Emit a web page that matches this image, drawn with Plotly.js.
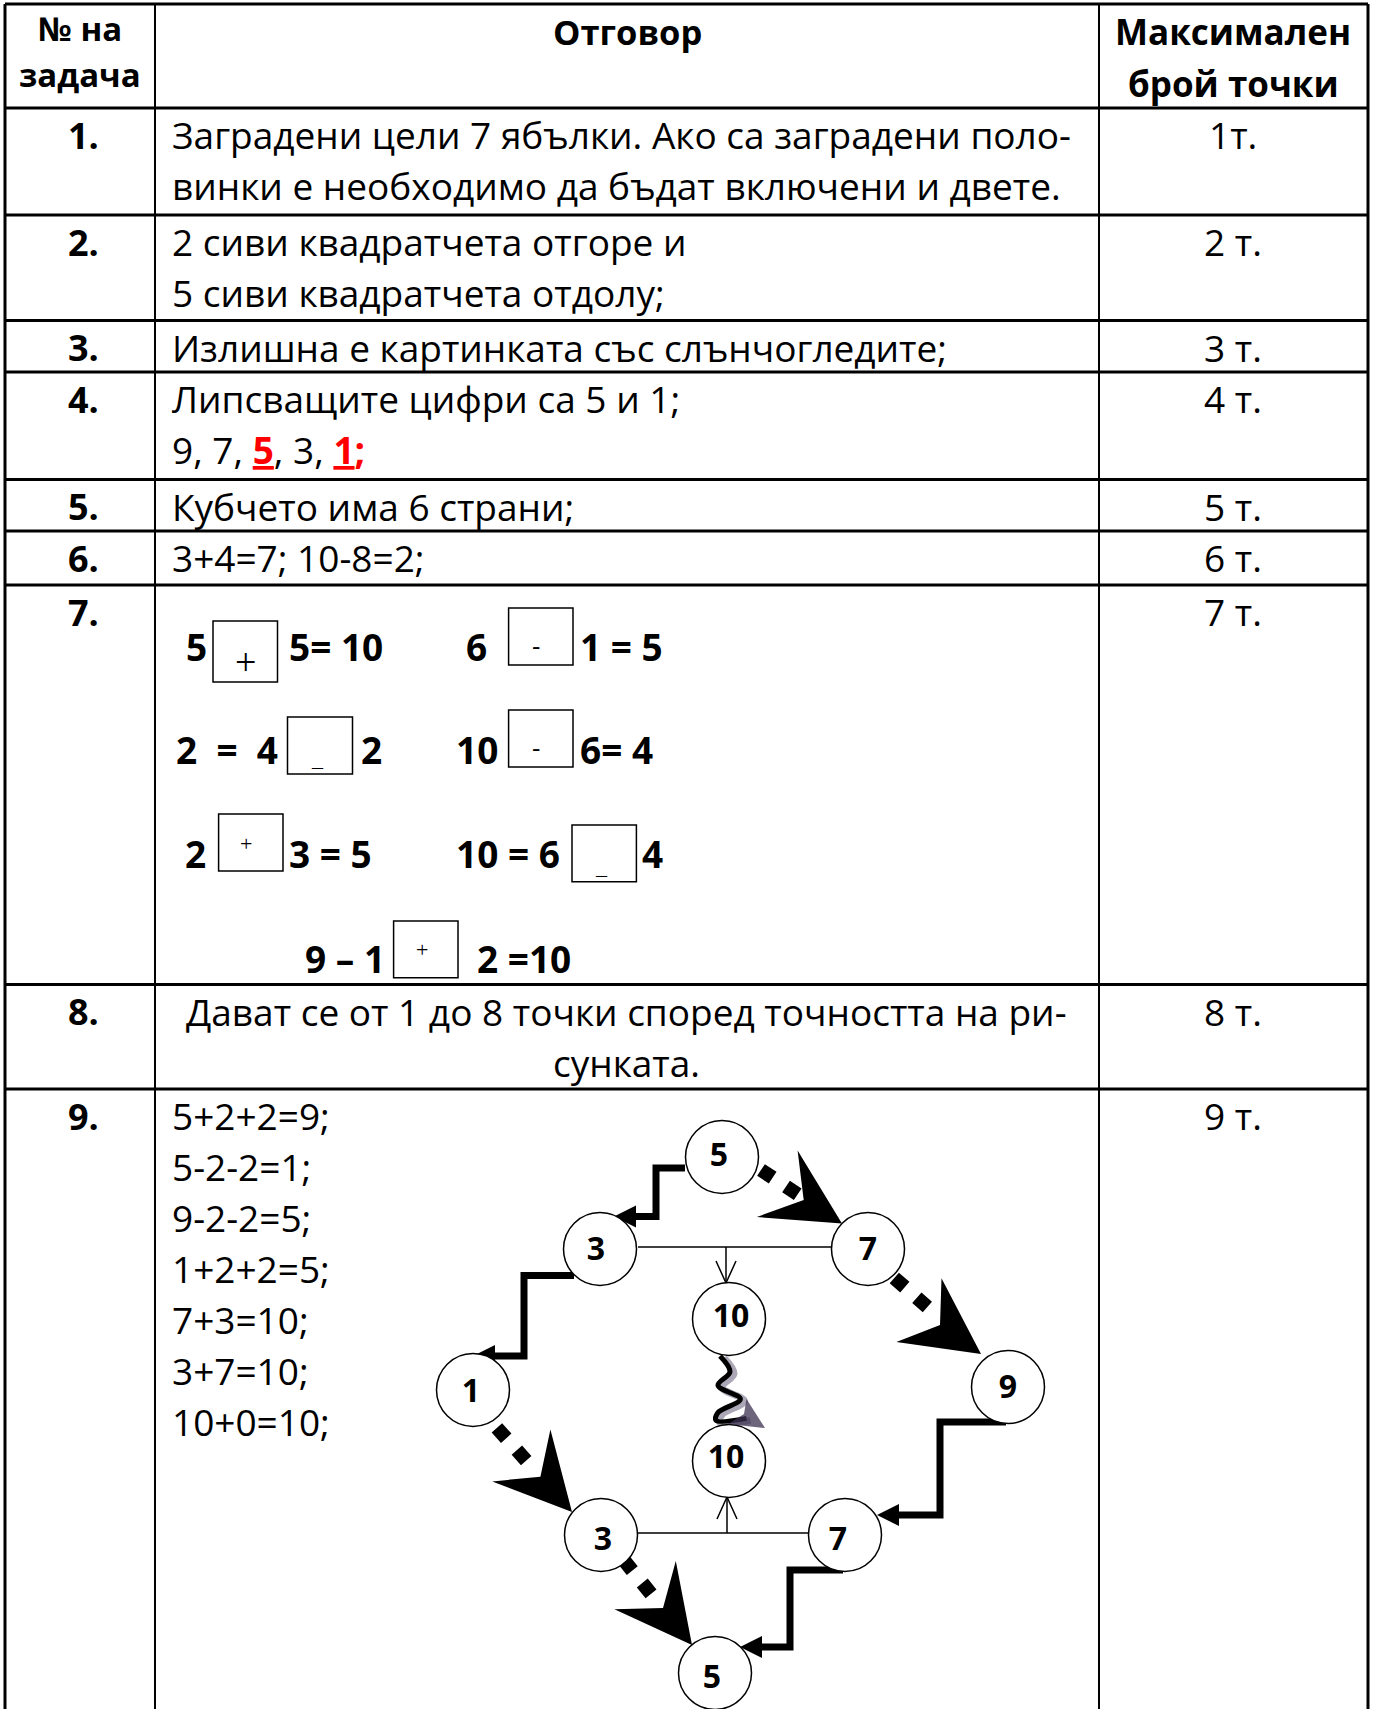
<!DOCTYPE html>
<html>
<head>
<meta charset="utf-8">
<script src="https://cdn.plot.ly/plotly-3.0.1.min.js"></script>
<style>body{margin:0;background:#fff}</style>
</head>
<body>
<div id="plot"></div>
<script>
// ---- table content ----
const headers = [['№ на', 'задача'], ['Отговор'], ['Максимален', 'брой точки']];
const taskNums = ['1.', '2.', '3.', '4.', '5.', '6.', '7.', '8.', '9.'];
const maxPoints = ['1т.', '2 т.', '3 т.', '4 т.', '5 т.', '6 т.', '7 т.', '8 т.', '9 т.'];
const answers = [
    ['Заградени цели 7 ябълки. Ако са заградени поло-', 'винки е необходимо да бъдат включени и двете.'],
    ['2 сиви квадратчета отгоре и', '5 сиви квадратчета отдолу;'],
    ['Излишна е картинката със слънчогледите;'],
    ['Липсващите цифри са 5 и 1;', '9, 7, <span style="color:#ff0000"><b><u>5</u></b></span>, 3, <span style="color:#ff0000"><b><u>1</u>;</b></span>'],
    ['Кубчето има 6 страни;'],
    ['3+4=7; 10-8=2;'],
    [],
    ['Дават се от 1 до 8 точки според точността на ри-', 'сунката.'],
    ['5+2+2=9;', '5-2-2=1;', '9-2-2=5;', '1+2+2=5;', '7+3=10;', '3+7=10;', '10+0=10;']
];
// task 7: left part, sign in the box, right part
const eqLeft = ['5', '6', '2\u00a0\u00a0=\u00a0\u00a04', '10', '2', '10 = 6', '9 – 1'];
const eqSign = ['+', '-', '_', '-', '+', '_', '+'];
const eqRight = ['5= 10', '1 = 5', '2', '6= 4', '3 = 5', '4', '2 =10'];
// task 9 diagram
const nodeLabels = ['5', '3', '7', '10', '1', '9', '10', '3', '7', '5'];

// ---- layout geometry (page pixels) ----
const W = 1373, H = 1709;
const rowLines = [4, 108, 215, 320.5, 372, 479.5, 531, 585, 984.5, 1089];
const colLines = [5, 155, 1099, 1368];
const answerAlign = ['left', 'left', 'left', 'left', 'left', 'left', 'left', 'center', 'left'];
const FONT = 'Open Sans, sans-serif';
const bodySize = 37, lineGap = 51, firstBase = 41;

// boxes of task 7: [x0, y0, x1, y1], and where left / right text sit
const boxes = [[213, 621, 277.5, 682], [508.6, 608, 573, 665], [287.5, 717, 352.5, 774], [508.6, 710, 573, 767],
               [218.6, 814, 283, 871], [572, 825, 636.4, 881.7], [393.6, 921, 458, 977.7]];
const eqBase = [661, 661, 764, 764, 868, 868, 973];
const eqLeftEnd = [209, 489, 280, 500, 208, 562, 387];
const eqRightStart = [287, 578, 359, 578, 287, 640, 475];
// sign: x, y, size, font
const signPos = [[245, 662, 38, 'Liberation Serif, serif'], [536, 645, 26, FONT], [317, 758, 22, 'Liberation Serif, serif'],
                 [536, 747, 26, FONT], [246, 843, 22, 'Liberation Serif, serif'], [601, 866, 22, 'Liberation Serif, serif'],
                 [422, 949, 22, 'Liberation Serif, serif']];

// diagram nodes
const nodeX = [722, 600, 868, 729, 473, 1008, 729, 601, 845, 715];
const nodeY = [1157, 1249, 1249, 1319, 1390, 1387, 1461, 1535, 1535, 1673];
const labelDx = [-3, -4, 0, 2, -2, 0, -3, 2, -7, -3];
const labelDy = [1, 3, 3, 0, 4, 3, -1, 7, 7, 7];
// thick elbow connectors, last point is the arrow tip
const elbows = [
    [[685, 1168], [656, 1168], [656, 1216.5], [614, 1216.5]],
    [[574, 1275.5], [524, 1275.5], [524, 1356], [473, 1356]],
    [[1006, 1422], [940, 1422], [940, 1515], [877, 1515]],
    [[843, 1570], [790, 1570], [790, 1647], [740, 1647]]
];
// dotted connectors: start, tip of the big arrow, notch of the arrow
const dotted = [
    [[761, 1170], [842, 1223.5], [803.7, 1200]],
    [[894.3, 1277.9], [981, 1354], [940, 1325]],
    [[496.9, 1427.8], [572, 1512], [540.4, 1476.7]],
    [[623.5, 1559.6], [692, 1645], [663, 1608]]
];
// thin T links with an open arrow
const tees = [
    {line: [[638, 1247], [832, 1247]], from: [726, 1247], tip: [726, 1283]},
    {line: [[637, 1533], [809, 1533]], from: [727, 1533], tip: [727, 1497]}
];
const squiggle = [[720, 1356], [730, 1371.8], [718, 1385.4], [740.4, 1399], [718, 1412.6], [716, 1420.4], [746.5, 1418.4]];

// ---- helpers ----
function txt(x, base, text, size, anchor, bold, color) {
    return {
        x: x, y: base - 0.388 * size, xref: 'x', yref: 'y',
        text: bold ? '<b>' + text + '</b>' : text,
        showarrow: false, xanchor: anchor, yanchor: 'middle',
        font: {family: FONT, size: size, color: color || '#000'}
    };
}
function hline(x0, x1, y, w) {
    return {type: 'line', x0: x0, x1: x1, y0: y, y1: y, line: {color: '#000', width: w}};
}
function vline(x, y0, y1, w) {
    return {type: 'line', x0: x, x1: x, y0: y0, y1: y1, line: {color: '#000', width: w}};
}
function unit(a, b) {
    const dx = b[0] - a[0], dy = b[1] - a[1], l = Math.hypot(dx, dy);
    return [dx / l, dy / l];
}
function poly(pts) {
    return 'M' + pts.map(p => p[0].toFixed(1) + ',' + p[1].toFixed(1)).join('L') + 'Z';
}

let shapes = [];
let annotations = [];
let traces = [];

// table grid
for (const y of rowLines) shapes.push(hline(colLines[0], colLines[3], y, 3));
colLines.forEach((x, i) => shapes.push(vline(x, rowLines[0], H, (i == 0 || i == 3) ? 3 : 2)));

// header
const headCenter = [80, 627, 1233];
const headBase = [[41, 87], [45], [45, 97]];
const headSize = [33, 34.5, 35];
headers.forEach((lines, c) => {
    lines.forEach((t, k) => annotations.push(txt(headCenter[c], headBase[c][k], t, headSize[c], 'center', true)));
});

// rows
for (let r = 0; r < taskNums.length; r++) {
    const base = rowLines[r + 1] + firstBase;
    annotations.push(txt(83, base, taskNums[r], 36, 'center', true));
    annotations.push(txt(1233, base, maxPoints[r], bodySize, 'center', false));
    answers[r].forEach((t, k) => {
        const x = answerAlign[r] == 'center' ? 626 : 170;
        annotations.push(txt(x, base + k * lineGap, t, bodySize, answerAlign[r], false));
    });
}

// task 7 boxes
boxes.forEach((b, i) => {
    shapes.push({type: 'rect', x0: b[0], y0: b[1], x1: b[2], y1: b[3], line: {color: '#000', width: 1.5}});
    annotations.push(txt(eqLeftEnd[i], eqBase[i], eqLeft[i], 37, 'right', true));
    annotations.push(txt(eqRightStart[i], eqBase[i], eqRight[i], 37, 'left', true));
    const s = signPos[i];
    annotations.push({x: s[0], y: s[1], xref: 'x', yref: 'y', text: eqSign[i], showarrow: false,
        xanchor: 'center', yanchor: 'middle', font: {family: s[3], size: s[2], color: '#000'}});
});

// diagram: elbows
for (const e of elbows) {
    const n = e.length, tip = e[n - 1], u = unit(e[n - 2], tip);
    const base = [tip[0] - 22 * u[0], tip[1] - 22 * u[1]];
    const pts = e.slice(0, n - 1).concat([base]);
    traces.push({x: pts.map(p => p[0]), y: pts.map(p => p[1]), mode: 'lines', hoverinfo: 'skip',
        line: {color: '#000', width: 7}});
    shapes.push({type: 'path', layer: 'below', fillcolor: '#000', line: {width: 0},
        path: poly([tip, [base[0] - 11 * u[1], base[1] + 11 * u[0]], [base[0] + 11 * u[1], base[1] - 11 * u[0]]])});
}
// diagram: dotted links with big arrows
for (const d of dotted) {
    const s = d[0], tip = d[1], notch = d[2];
    const v = unit(s, tip);
    const end = [s[0] + 46 * v[0], s[1] + 46 * v[1]];
    traces.push({x: [s[0], end[0]], y: [s[1], end[1]], mode: 'lines', hoverinfo: 'skip',
        line: {color: '#000', width: 14, dash: '14px,16px'}});
    const u = unit(notch, tip);
    const bx = tip[0] - 76 * u[0], by = tip[1] - 76 * u[1];
    shapes.push({type: 'path', layer: 'below', fillcolor: '#000', line: {width: 0},
        path: poly([tip, [bx - 39 * u[1], by + 39 * u[0]], notch, [bx + 39 * u[1], by - 39 * u[0]]])});
}
// diagram: thin T links
for (const t of tees) {
    traces.push({x: t.line.map(p => p[0]), y: t.line.map(p => p[1]), mode: 'lines', hoverinfo: 'skip',
        line: {color: '#000', width: 1.5}});
    const u = unit(t.from, t.tip);
    const bx = t.tip[0] - 22 * u[0], by = t.tip[1] - 22 * u[1];
    traces.push({x: [t.from[0], t.tip[0], null, bx - 10 * u[1], t.tip[0], bx + 10 * u[1]],
        y: [t.from[1], t.tip[1], null, by + 10 * u[0], t.tip[1], by - 10 * u[0]],
        mode: 'lines', hoverinfo: 'skip', line: {color: '#000', width: 1.5}});
}
// diagram: squiggle with its shadow
traces.push({x: squiggle.map(p => p[0] + 4), y: squiggle.map(p => p[1] + 2), mode: 'lines', hoverinfo: 'skip',
    line: {color: 'rgba(90,80,110,0.5)', width: 7, shape: 'spline'}});
traces.push({x: squiggle.map(p => p[0]), y: squiggle.map(p => p[1]), mode: 'lines', hoverinfo: 'skip',
    line: {color: '#000', width: 5, shape: 'spline'}});
shapes.push({type: 'path', fillcolor: 'rgba(60,50,80,0.75)', line: {width: 0},
    path: poly([[765, 1428], [746.5, 1399], [744, 1414], [728, 1424]])});
// diagram: nodes
traces.push({x: nodeX, y: nodeY, mode: 'markers', hoverinfo: 'skip',
    marker: {size: 73, color: '#fff', line: {color: '#000', width: 1.5}}});
traces.push({x: nodeX.map((x, i) => x + labelDx[i]), y: nodeY.map((y, i) => y + labelDy[i]), mode: 'text',
    text: nodeLabels, hoverinfo: 'skip', textposition: 'middle center',
    textfont: {family: FONT, size: 32, weight: 700, color: '#000'}});

const layout = {
    width: W, height: H,
    margin: {l: 0, r: 0, t: 0, b: 0},
    paper_bgcolor: '#fff', plot_bgcolor: '#fff',
    showlegend: false,
    xaxis: {range: [0, W], visible: false, fixedrange: true},
    yaxis: {range: [H, 0], visible: false, fixedrange: true},
    shapes: shapes,
    annotations: annotations
};
Plotly.newPlot('plot', traces, layout, {staticPlot: true, displayModeBar: false});
</script>
</body>
</html>
